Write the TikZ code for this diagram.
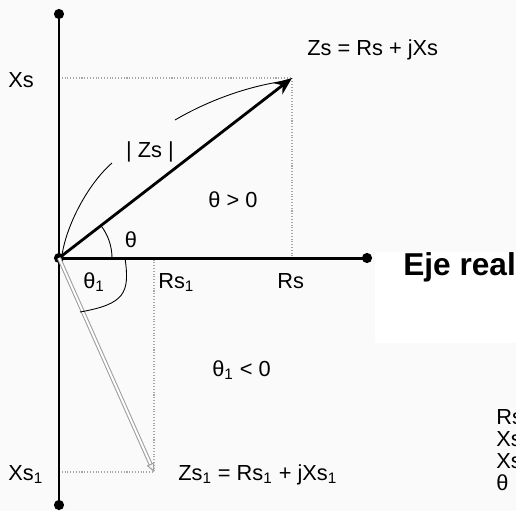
\documentclass[tikz,border=0pt]{standalone}
\usepackage{fontspec}
\setmainfont{Liberation Sans}
\usetikzlibrary{arrows.meta}

\begin{document}
\begin{tikzpicture}[x=0.02cm,y=0.02cm,
  lbl/.style={inner sep=0pt,anchor=base west,font=\fontsize{12.4}{15}\selectfont},
  proj/.style={gray!70,densely dotted,line width=0.6pt},
  punto/.style={circle,fill=black,inner sep=0pt,minimum size=5.8pt},
  eje/.style={line width=1.7pt}]

% Fondo
\fill[black!2]
(-59,-253)
rectangle
(457,258);
\useasboundingbox
(-59,-253)
rectangle
(457,258);
\fill[white]
(316,6)
rectangle
(457,-85);

% Puntos
\coordinate (O) at (0,0);
\coordinate (Ztip) at (233,180);
\coordinate (Z1tip) at (95,-214);
\node[punto] (arriba) at (0,244) {};
\node[punto] (abajo) at (0,-247) {};
\node[punto] (derecha) at (308,0) {};

% Proyecciones
\draw[proj]
(O |- Ztip)
-- (Ztip)
-- (Ztip |- O);
\draw[proj]
(O |- Z1tip)
-- (Z1tip)
-- (Z1tip |- O);

% Ejes
\draw[eje]
(arriba.center)
--
(abajo.center);
\draw[eje]
(O)
--
(derecha.center);
\node[punto] (origen) at (O) {};

% Vector Zs
\draw[line width=1.6pt,-{Stealth[length=10pt,width=8pt]}]
(O)
--
(Ztip);

% Vector Zs1
\draw[gray!75,line width=0.6pt,double=white,double distance=1.1pt,
  -{Triangle[open,length=5pt,width=4.5pt]}]
(O)
--
(Z1tip);

% Angulos
\draw[line width=0.5pt]
(53,0)
arc[start angle=0,end angle=37.7,radius=53];
\draw[line width=0.5pt]
(66,0)
.. controls (71,-35) and (66,-46) ..
(21,-54);

% Modulo
\draw[line width=0.5pt]
(3,3)
.. controls (8,35) and (30,75) ..
(53,95);
\draw[line width=0.5pt]
(116,138)
.. controls (150,158) and (190,172) ..
(226,177);

% Textos
\node[lbl] (xs) at (-51,171) {Xs};
\node[lbl] (zs) at (248,203) {Zs = Rs + jXs};
\node[lbl,anchor=base] (modulo) at (91,101) {| Zs |};
\node[lbl,anchor=base] (tpos) at (174,51) {θ > 0};
\node[lbl,anchor=base] (theta) at (72,11) {θ};
\node[lbl] (theta1) at (24,-30) {θ\textsubscript{1}};
\node[lbl] (rs1) at (99,-30) {Rs\textsubscript{1}};
\node[lbl] (rs) at (218,-30) {Rs};
\node[lbl] (tneg) at (153,-118) {θ\textsubscript{1} < 0};
\node[lbl] (xs1) at (-51,-222) {Xs\textsubscript{1}};
\node[lbl] (zs1) at (119,-222)
{Zs\textsubscript{1} = Rs\textsubscript{1} + jXs\textsubscript{1}};
\node[lbl,font=\fontsize{18}{21}\selectfont\bfseries] (ejereal) at (344,-17) {Eje real};

% Lista (cortada)
\node[lbl] (l1) at (437,-166) {Rs};
\node[lbl] (l2) at (437,-188) {Xs};
\node[lbl] (l3) at (437,-210) {Xs};
\node[lbl] (l4) at (437,-232) {θ};

\end{tikzpicture}
\end{document}
